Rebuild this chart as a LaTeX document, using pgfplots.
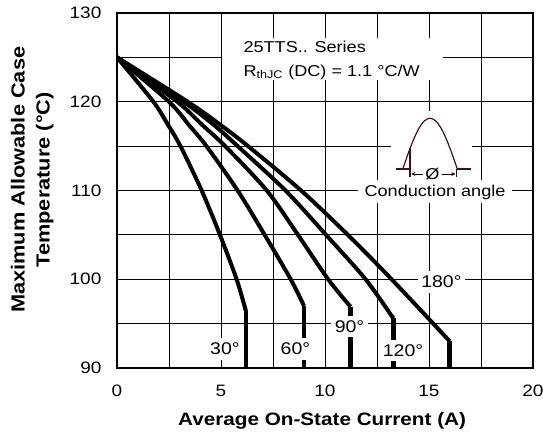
\documentclass[border=0pt]{standalone}
\usepackage{pgfplots}
\pgfplotsset{compat=1.18}
\usepackage{fontspec}
\setmainfont{Liberation Sans}[FakeStretch=1.15]
\usetikzlibrary{arrows.meta}
\definecolor{wave}{RGB}{70,15,15}
\begin{document}
\begin{tikzpicture}
\begin{axis}[
  scale only axis, width=312pt, height=266.25pt,
  xmin=0,xmax=20,ymin=90,ymax=130,
  xtick={0,5,10,15,20}, minor xtick={2.5,7.5,12.5,17.5},
  ytick={90,100,110,120,130}, minor ytick={95,105,115,125},
  grid=both,
  major grid style={black, line width=0.7pt},
  minor grid style={black, line width=0.7pt},
  major tick length=0pt, minor tick length=0pt,
  axis line style={line width=2pt},
  /pgf/number format/assume math mode=true,
  tick label style={font=\fontsize{12.4}{14}\selectfont},
  xticklabel style={anchor=north, inner sep=0pt, yshift=-12.75pt},
  yticklabel style={anchor=east, inner sep=0pt, xshift=-11.5pt},
  xlabel={Average On-State Current (A)},
  xlabel style={at={(axis description cs:0.493,-0.1625)}, anchor=base, inner sep=0pt,
    font=\bfseries\fontsize{13.5}{16}\selectfont},
  ylabel={Maximum Allowable Case\\Temperature (°C)},
  ylabel style={at={(axis description cs:-0.204,0.53)}, anchor=center, align=center,
    font=\bfseries\fontsize{14.2}{18.75}\selectfont},
  every axis plot/.append style={black, line width=3pt},
]
% 30 deg
\addplot[smooth] coordinates {(0,125) (1.75,120) (2.45,117.4) (3.05,115) (4.07,110) (4.95,105) (5.75,100) (6.2,96.4)};
\addplot[line width=3.5pt] coordinates {(6.2,96.4) (6.2,90)};
% 60 deg
\addplot[smooth] coordinates {(0,125) (2.5,120) (3.45,117.4) (4.3,115) (5.8,110) (7.1,105) (8.35,100) (8.99,97.0)};
\addplot[line width=3.5pt] coordinates {(8.99,97.0) (8.99,90)};
% 90 deg
\addplot[smooth] coordinates {(0,125) (2.9,120) (4.09,117.4) (5.2,115) (7.2,110) (8.7,105) (10.15,100) (11.23,96.9)};
\addplot[line width=3.5pt] coordinates {(11.23,96.9) (11.23,90)};
% 120 deg
\addplot[smooth] coordinates {(0,125) (3.2,120) (4.65,117.4) (5.8,115) (8.1,110) (10.05,105) (11.95,100) (13.28,95.6)};
\addplot[line width=3.5pt] coordinates {(13.28,95.6) (13.28,90)};
% 180 deg
\addplot[smooth] coordinates {(0,125) (3.4,120) (4.97,117.4) (6.3,115) (8.85,110) (11.1,105) (13.2,100) (16.0,93.0)};
\addplot[line width=3.5pt] coordinates {(16.0,93.0) (16.0,90)};

% title box
\fill[white] (axis cs:5.05,127.2) rectangle (axis cs:15.67,122.45);
\node[anchor=base west, inner sep=0pt, font=\fontsize{11.8}{14}\selectfont] at (axis cs:6.07,125.53) {25TTS.. Series};
\node[anchor=base west, inner sep=0pt, font=\fontsize{11.8}{14}\selectfont] at (axis cs:6.07,122.87) {R\textsubscript{thJC} (DC) = 1.1 °C/W};

% conduction angle inset
\fill[white] (axis cs:13.17,118.96) rectangle (axis cs:17.07,111.18);
\fill[white] (axis cs:11.59,111.18) rectangle (axis cs:18.99,108.6);
\addplot[smooth, color=wave, line width=0.9pt] coordinates {(13.74,112.42) (14.002,114.19) (14.264,115.78) (14.526,117.05) (14.788,117.86) (15.05,118.14) (15.312,117.86) (15.574,117.05) (15.836,115.78) (16.098,114.19) (16.36,112.42)};
\addplot[color=wave, line width=0.9pt] coordinates {(13.41,112.42) (14.09,112.42)};
\addplot[color=wave, line width=0.9pt] coordinates {(16.33,112.42) (17.0,112.42)};
\addplot[color=wave, line width=1.2pt] coordinates {(14.09,111.56) (14.09,114.8)};
\addplot[color=wave, line width=1.2pt] coordinates {(16.33,111.56) (16.33,112.42)};
\draw[-{Stealth[length=3pt,width=3pt]}, line width=0.6pt] (axis cs:14.71,111.86) -- (axis cs:14.15,111.86);
\draw[-{Stealth[length=3pt,width=3pt]}, line width=0.6pt] (axis cs:15.61,111.86) -- (axis cs:16.27,111.86);
\node[inner sep=0pt, font=\fontsize{11.8}{14}\selectfont] at (axis cs:15.16,111.86) {Ø};
\node[anchor=base, inner sep=0pt, font=\fontsize{11.8}{14}\selectfont] at (axis cs:15.29,109.27) {Conduction angle};

% angle labels
\tikzset{alab/.style={fill=white, inner xsep=2.5pt, inner ysep=3.5pt, font=\fontsize{12.7}{15}\selectfont}}
\node[alab] at (axis cs:5.19,92.14) {30°};
\node[alab] at (axis cs:8.58,92.14) {60°};
\node[alab] at (axis cs:11.18,94.65) {90°};
\node[alab] at (axis cs:13.75,92.0) {120°};
\node[alab] at (axis cs:15.6,99.7) {180°};
\end{axis}
\pgfresetboundingbox
\path (current axis.south west) ++(-87.75pt,-57.75pt) rectangle ++(407.25pt,333.75pt);
\end{tikzpicture}
\end{document}
